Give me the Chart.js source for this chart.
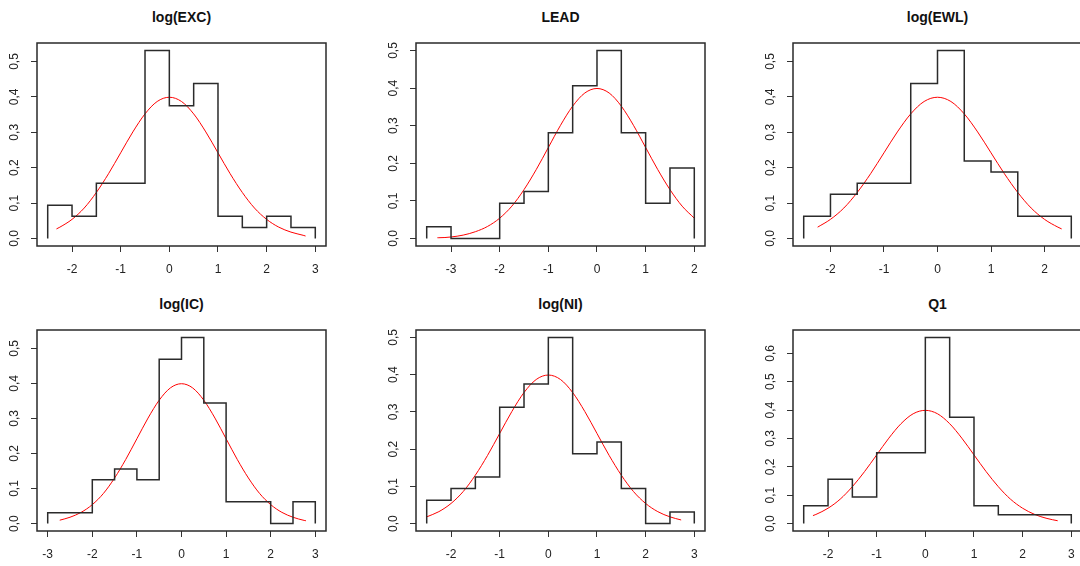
<!DOCTYPE html>
<html>
<head>
<meta charset="utf-8">
<script src="https://cdn.jsdelivr.net/npm/chart.js@4.4.1/dist/chart.umd.min.js"></script>
<style>
  html, body { margin: 0; padding: 0; background: #fff; overflow: hidden; }
  body { width: 1080px; height: 566px; position: relative; font-family: "Liberation Sans", Arial, sans-serif; }
  canvas { position: absolute; }
  .title { position: absolute; font-weight: bold; font-size: 14px; color: #111; transform: translate(-50%, -50%); white-space: nowrap; }
</style>
</head>
<body>
<script>
// histogram densities, bins of width 0.5
const titles = ['log(EXC)', 'LEAD', 'log(EWL)', 'log(IC)', 'log(NI)', 'Q1'];
const binStarts = [-2.5, -3.5, -2.5, -3, -2.5, -2.5];
const binWidth = 0.5;

const densEXC = [0.094, 0.0625, 0.156, 0.156, 0.531, 0.375, 0.4375, 0.0625, 0.031, 0.0625, 0.031];
const densLEAD = [0.031, 0, 0, 0.094, 0.125, 0.281, 0.406, 0.5, 0.281, 0.094, 0.1875];
const densEWL = [0.0625, 0.125, 0.156, 0.156, 0.4375, 0.531, 0.219, 0.1875, 0.0625, 0.0625];
const densIC = [0.031, 0.031, 0.125, 0.156, 0.125, 0.469, 0.531, 0.344, 0.0625, 0.0625, 0, 0.0625];
const densNI = [0.0625, 0.094, 0.125, 0.3125, 0.375, 0.5, 0.1875, 0.219, 0.094, 0, 0.031];
const densQ1 = [0.0625, 0.156, 0.094, 0.25, 0.25, 0.656, 0.375, 0.0625, 0.031, 0.031, 0.031];
const densities = [densEXC, densLEAD, densEWL, densIC, densNI, densQ1];

// red density curve
const curveX = [-3.25, -3, -2.75, -2.5, -2.25, -2, -1.75, -1.5, -1.25, -1, -0.75, -0.5, -0.25, 0,
                0.25, 0.5, 0.75, 1, 1.25, 1.5, 1.75, 2, 2.25, 2.5, 2.75, 3];
const curveY = [0.002, 0.004, 0.009, 0.018, 0.032, 0.054, 0.086, 0.130, 0.183, 0.242, 0.301, 0.352, 0.387, 0.399,
                0.387, 0.352, 0.301, 0.242, 0.183, 0.130, 0.086, 0.054, 0.032, 0.018, 0.009, 0.004];
const curveStarts = [[-2.32, 0.027], [-3.28, 0.002], [-2.24, 0.032], [-2.73, 0.0096], [-2.5, 0.018], [-2.31, 0.028]];
const curveEnds = [[2.8, 0.007], [2.0, 0.054], [2.32, 0.027], [2.79, 0.008], [2.73, 0.0096], [2.72, 0.0099]];

// plot box of each panel on the page: left, top, width, height
const boxes = [
  [37, 43, 289, 203], [416, 43, 289, 203], [793, 43, 289, 203],
  [37, 330, 289, 201], [416, 330, 289, 201], [793, 330, 289, 201]
];
const padL = 40, padT = 3, padR = 3, padB = 36;

const boxPlugin = {
  id: 'box',
  afterDraw(chart) {
    const a = chart.chartArea, ctx = chart.ctx;
    ctx.save();
    ctx.strokeStyle = '#2a2a2a';
    ctx.lineWidth = 1.5;
    ctx.strokeRect(a.left, a.top, a.right - a.left, a.bottom - a.top);
    ctx.restore();
  }
};

const tickFont = { family: '"Liberation Sans", Arial, sans-serif', size: 12 };

titles.forEach((t, i) => {
  const [L, T, W, H] = boxes[i];
  const dens = densities[i];
  const lo = binStarts[i];
  const hi = lo + dens.length * binWidth;

  // step outline
  const hist = [{ x: lo, y: 0 }];
  dens.forEach((d, k) => {
    hist.push({ x: lo + k * binWidth, y: d });
    hist.push({ x: lo + (k + 1) * binWidth, y: d });
  });
  hist.push({ x: hi, y: 0 });

  const cs = curveStarts[i], ce = curveEnds[i];
  const curve = [{ x: cs[0], y: cs[1] }];
  curveX.forEach((x, k) => { if (x > cs[0] && x < ce[0]) curve.push({ x: x, y: curveY[k] }); });
  curve.push({ x: ce[0], y: ce[1] });

  const xPad = 0.04 * (hi - lo);
  const ymax = Math.max(...dens);

  const cv = document.createElement('canvas');
  cv.width = W + padL + padR;
  cv.height = H + padT + padB;
  cv.style.left = (L - padL) + 'px';
  cv.style.top = (T - padT) + 'px';
  cv.style.width = cv.width + 'px';
  cv.style.height = cv.height + 'px';
  document.body.appendChild(cv);

  const tt = document.createElement('div');
  tt.className = 'title';
  tt.textContent = t;
  tt.style.left = (L + W / 2) + 'px';
  tt.style.top = (T - 26) + 'px';
  document.body.appendChild(tt);

  new Chart(cv, {
    type: 'line',
    data: {
      datasets: [
        { data: hist, borderColor: '#2b2b2b', borderWidth: 1.5, pointRadius: 0, tension: 0, fill: false },
        { data: curve, borderColor: '#ff0000', borderWidth: 1, pointRadius: 0, cubicInterpolationMode: 'monotone', fill: false }
      ]
    },
    options: {
      responsive: false,
      animation: false,
      devicePixelRatio: 1,
      layout: { padding: { top: padT, right: padR, left: 0, bottom: 0 } },
      plugins: { legend: { display: false }, tooltip: { enabled: false } },
      scales: {
        x: {
          type: 'linear',
          min: lo - xPad,
          max: hi + xPad,
          border: { display: false },
          grid: { drawOnChartArea: false, tickLength: 6, color: '#333' },
          ticks: { stepSize: 1, includeBounds: false, padding: 10, maxRotation: 0, autoSkip: false, color: '#222', font: tickFont },
          afterFit(s) { s.height = padB; s.paddingLeft = 0; s.paddingRight = 0; }
        },
        y: {
          type: 'linear',
          min: -0.04 * ymax,
          max: 1.04 * ymax,
          border: { display: false },
          grid: { drawOnChartArea: false, tickLength: 6, color: '#333' },
          ticks: {
            stepSize: 0.1, includeBounds: false, minRotation: 90, maxRotation: 90, crossAlign: 'center',
            padding: 8, autoSkip: false, color: '#222', font: tickFont,
            callback: v => v.toFixed(1).replace('.', ',')
          },
          afterFit(s) { s.width = padL; s.paddingTop = 0; s.paddingBottom = 0; }
        }
      }
    },
    plugins: [boxPlugin]
  });
});
</script>
</body>
</html>
